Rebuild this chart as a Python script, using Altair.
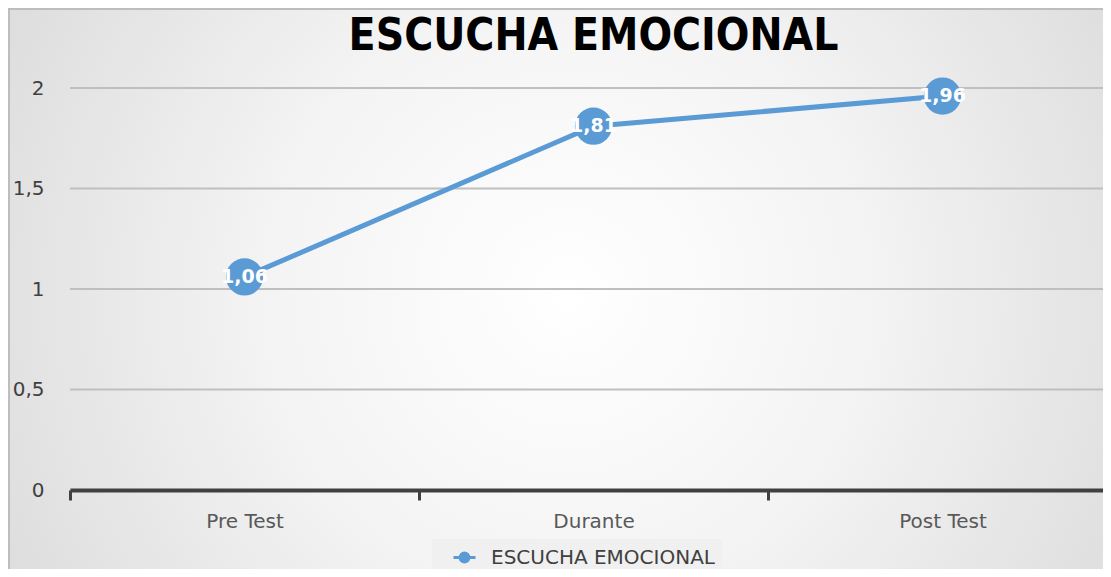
import altair as alt
import pandas as pd

categories = ["Pre Test", "Durante", "Post Test"]
values = [1.06, 1.81, 1.96]
labels = ["1,06", "1,81", "1,96"]
series = "ESCUCHA EMOCIONAL"
y_ticks = [0, 0.5, 1, 1.5, 2]

df = pd.DataFrame({"fase": categories, "valor": values, "etiqueta": labels, "serie": series})
grid_df = pd.DataFrame({"valor": y_ticks})
title_df = pd.DataFrame({"t": [series]})

W, H = 1047, 402
PL, PT, PR, PB = 62, 80, -14, 79
BLUE = "#5b9bd5"

x_enc = alt.X("fase:N", sort=categories,
              scale=alt.Scale(paddingInner=0, paddingOuter=0),
              axis=alt.Axis(title=None, labelAngle=0, labelFontSize=20, labelColor="#595959",
                            labelFont="DejaVu Sans", labelPadding=11,
                            domainColor="#404040", domainWidth=4,
                            tickColor="#404040", tickWidth=3, tickSize=10, tickBand="extent",
                            grid=False, zindex=1))
y_scale = alt.Scale(domain=[0, 2], nice=False)
y_enc = alt.Y("valor:Q", scale=y_scale,
              axis=alt.Axis(title=None, values=y_ticks, labelFontSize=20, format=".1~f",
                            labelColor="#404040", labelFont="DejaVu Sans", labelPadding=26,
                            labelExpr="replace(datum.label, '.', ',')",
                            domain=False, ticks=False, grid=False, zindex=1))

bg = alt.Chart(alt.Data(values=[{}])).mark_rect(
    fill=alt.RadialGradient(gradient="radial", x1=0.5, y1=0.5, r1=0, x2=0.5, y2=0.5, r2=0.75,
                            stops=[alt.GradientStop(offset=0, color="#ffffff"),
                                   alt.GradientStop(offset=0.35, color="#f4f4f4"),
                                   alt.GradientStop(offset=1, color="#cfcfcf")]),
    stroke="#bdbdbd", strokeWidth=2
).encode(x=alt.value(-PL + 1), x2=alt.value(W + 10),
         y=alt.value(-PT + 1), y2=alt.value(H + PB + 10))

grid = alt.Chart(grid_df).mark_rule(color="#bfbfbf", strokeWidth=2).encode(
    y=alt.Y("valor:Q", scale=y_scale))

title = alt.Chart(title_df).mark_text(
    fontSize=44, font="DejaVu Sans Condensed, Liberation Sans, sans-serif", fontWeight="bold",
    color="#000000", align="center", baseline="alphabetic"
).encode(text="t:N", x=alt.value(W / 2), y=alt.value(-38))

color_enc = alt.Color("serie:N", scale=alt.Scale(domain=[series], range=[BLUE]),
                      legend=alt.Legend(title=None, orient="none", legendX=362, legendY=451,
                                        labelFontSize=20, labelColor="#404040",
                                        labelFont="DejaVu Sans", labelLimit=500,
                                        symbolType="M-1,0H-0.4M0.4,0H1M-0.4,0A0.4,0.4 0 1,1 0.4,0A0.4,0.4 0 1,1 -0.4,0",
                                        symbolSize=484, symbolStrokeWidth=3, symbolOffset=14,
                                        symbolFillColor=BLUE, symbolStrokeColor=BLUE,
                                        fillColor="#f0f0f0", padding=6, labelOffset=14,
                                        zindex=1))

base = alt.Chart(df)
line = base.mark_line(strokeWidth=5).encode(x=x_enc, y=y_enc, color=color_enc)
pts = base.mark_circle(size=1385, opacity=1).encode(x=x_enc, y=y_enc, color=color_enc)
txt = base.mark_text(color="white", fontSize=19, fontWeight="bold", font="DejaVu Sans").encode(
    x=x_enc, y=y_enc, text="etiqueta:N")

chart = alt.layer(bg, grid, title, line, pts, txt).properties(
    width=W, height=H,
    padding={"left": PL, "top": PT, "right": PR, "bottom": PB},
    autosize=alt.AutoSizeParams(type="none"),
).configure_view(stroke=None).configure(background="#ffffff")

chart.save("out.html", embed_options={"renderer": "svg", "actions": False})
